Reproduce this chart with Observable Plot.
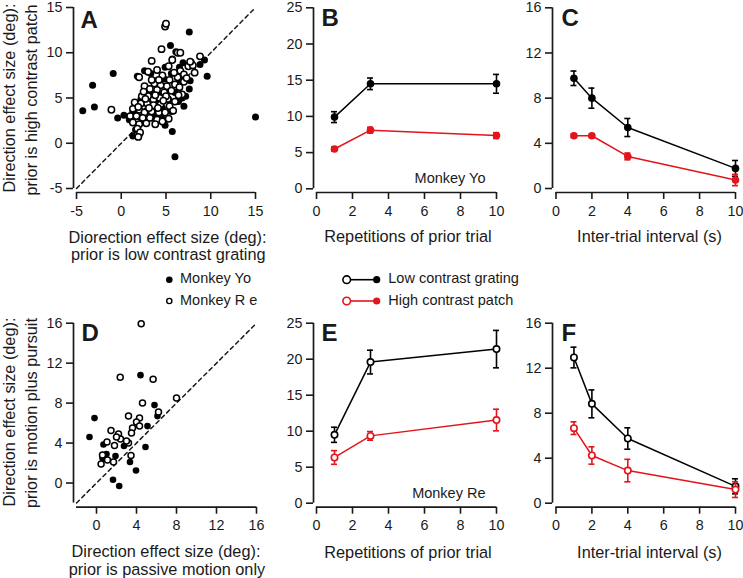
<!DOCTYPE html>
<html><head><meta charset="utf-8">
<script src="https://cdn.jsdelivr.net/npm/d3@7"></script>
<script src="https://cdn.jsdelivr.net/npm/@observablehq/plot@0.6"></script>
<style>
body{margin:0;background:#fff;}
#fig{position:relative;width:743px;height:578px;font-family:"Liberation Sans",Arial,Helvetica,sans-serif;color:#1a1a1a;}
#fig svg{position:absolute;}
.t{position:absolute;white-space:nowrap;line-height:0.9;}
</style></head><body><div id="fig"></div>
<script>
// ---------- Panel A: scatter (deg) ----------
const aMonkeyYo = [[-4.3,3.6],[-3.2,6.4],[-3.0,4.0],[-0.9,7.7],[-0.4,2.8],[0.3,3.1],[0.9,2.6],[1.3,0.8],[1.6,1.5],[2.0,0.9],[1.8,7.4],[2.6,8.0],[3.3,7.7],[4.9,2.0],[5.7,1.3],[6.0,-1.5],[5.5,10.8],[7.6,12.3],[6.1,10.1],[9.3,9.2],[8.8,8.7],[9.6,7.4],[7.7,6.9],[7.6,6.0],[7.0,4.1],[7.2,5.2],[6.4,4.6],[5.6,3.5],[4.6,3.9],[3.7,2.9],[2.8,3.6],[2.2,4.9],[3.2,5.7],[4.0,6.4],[4.9,8.4],[5.6,7.7],[6.5,8.4],[4.4,5.3],[5.2,6.0],[6.0,5.6],[3.0,4.4],[4.1,4.5],[1.3,3.5],[5.7,9.3],[6.9,8.9],[3.6,3.4],[2.4,2.5],[6.6,7.0],[4.8,7.1],[3.9,6.9],[15.0,2.9],[6.8,5.0],[5.3,4.8],[2.1,2.9],[4.5,2.9]];
const aMonkeyRe = [[-1.1,3.7],[4.9,12.9],[5.0,13.2],[4.5,10.4],[6.3,10.0],[3.4,9.1],[8.8,9.6],[7.8,8.9],[8.2,7.8],[7.5,8.5],[6.6,8.0],[5.7,9.2],[4.0,8.1],[3.0,7.9],[2.0,7.3],[4.6,7.5],[5.4,7.0],[6.3,7.3],[7.0,7.6],[3.7,6.6],[4.4,6.4],[5.1,6.3],[6.0,6.5],[7.0,6.8],[2.6,6.3],[3.2,6.0],[4.0,5.9],[4.8,5.6],[5.6,5.8],[6.8,5.4],[2.3,5.2],[3.0,5.2],[3.6,4.8],[4.3,5.0],[5.2,4.9],[6.0,4.6],[1.5,4.5],[2.2,4.4],[2.9,4.4],[3.6,4.2],[4.4,4.3],[5.4,4.1],[1.3,3.8],[2.0,3.7],[2.6,3.4],[3.4,3.5],[4.2,3.4],[4.9,3.4],[5.8,3.6],[1.0,3.0],[1.7,3.0],[2.4,2.8],[3.2,2.8],[4.0,2.6],[4.6,2.4],[5.3,2.7],[1.3,2.3],[2.0,2.1],[2.8,2.2],[1.8,1.6],[2.1,1.2],[1.9,0.7],[3.8,2.1],[6.5,6.2],[5.9,7.8],[4.2,7.0],[3.8,5.3],[5.0,5.2],[2.7,4.9],[4.7,4.7],[6.4,5.3],[7.3,7.2],[8.0,8.6],[3.4,7.0],[2.5,5.7],[1.9,4.0],[3.1,3.9],[4.1,3.9],[6.6,10.0],[5.3,8.5],[7.7,9.0]];
const aDomain = [-5, 15];
const aTicks = [-5, 0, 5, 10, 15];

// ---------- Panel D: scatter (deg) ----------
const dMonkeyYo = [[4.4,10.8],[-0.2,6.5],[-0.7,4.6],[5.8,7.8],[6.1,6.7],[5.1,5.7],[4.9,3.6],[2.75,3.7],[1.9,2.7],[1.0,2.9],[0.7,3.85],[3.35,2.1],[3.95,1.25],[1.65,0.33],[2.27,-0.3],[0.6,2.5]];
const dMonkeyRe = [[4.47,15.95],[2.37,10.6],[5.66,10.4],[8.0,8.5],[4.6,8.0],[3.2,6.7],[4.3,6.5],[4.0,6.1],[4.3,5.7],[3.6,5.5],[3.5,5.0],[1.45,5.25],[2.2,4.9],[2.4,4.4],[1.05,4.1],[1.8,3.75],[3.2,4.0],[3.45,2.75],[1.1,2.3],[1.7,2.1],[0.46,1.9],[6.2,7.1],[0.6,2.8],[2.0,4.6],[3.0,4.2]];
const dDomain = [-2, 16];
const dTicks = [0, 4, 8, 12, 16];

// ---------- Panels B & E: repetitions ----------
const repetitions = [1, 3, 10];
const bLow = [9.9, 14.5, 14.5], bLowErr = [0.75, 0.8, 1.3];
const bHigh = [5.5, 8.1, 7.35], bHighErr = [0.3, 0.4, 0.4];
const eLow = [9.5, 19.6, 21.4], eLowErr = [1.05, 1.65, 2.6];
const eHigh = [6.35, 9.35, 11.55], eHighErr = [0.95, 0.6, 1.5];
const repTicks = [0, 2, 4, 6, 8, 10];
const repYTicks = [0, 5, 10, 15, 20, 25];

// ---------- Panels C & F: inter-trial interval ----------
const intervals = [1, 2, 4, 10];
const cLow = [9.76, 8.0, 5.4, 1.78], cLowErr = [0.64, 0.89, 0.8, 0.7];
const cHigh = [4.67, 4.67, 2.84, 0.75], cHighErr = [0.15, 0.15, 0.3, 0.5];
const fLow = [12.95, 8.83, 5.75, 1.5], fLowErr = [0.92, 1.24, 0.95, 0.67];
const fHigh = [6.67, 4.24, 2.9, 1.21], fHighErr = [0.56, 0.77, 1.0, 0.7];
const itiTicks = [0, 2, 4, 6, 8, 10];
const itiYTicks = [0, 4, 8, 12, 16];

const RED = "#e3141b";
const FONT = '"Liberation Sans", Arial, Helvetica, sans-serif';
const fig = document.getElementById("fig");

function addText(txt, cx, cy, size, opts = {}) {
  const d = document.createElement("div");
  d.className = "t";
  d.textContent = txt;
  d.style.fontSize = size + "px";
  d.style.left = cx + "px";
  d.style.top = cy + "px";
  const a = opts.anchor || "middle";
  const tx = a === "start" ? "0" : a === "end" ? "-100%" : "-50%";
  d.style.transform = `translate(${tx},-50%)` + (opts.rotate ? " rotate(-90deg)" : "");
  fig.appendChild(d);
}

function panel(p, marks) {
  const chart = Plot.plot({
    width: p.w, height: p.h,
    marginLeft: p.yLine - p.left,
    marginRight: p.left + p.w - p.xPx[1],
    marginTop: p.yPx[0] - p.top,
    marginBottom: p.top + p.h - p.xLine,
    insetLeft: p.xPx[0] - p.yLine,
    insetBottom: p.xLine - p.yPx[1],
    x: {domain: p.xDomain, label: null},
    y: {domain: p.yDomain, label: null},
    style: {background: "transparent", overflow: "visible", fontFamily: FONT, fontSize: "14.3px", color: "#1a1a1a"},
    marks: [
      Plot.ruleY([p.yDomain[0]], {x1: () => p.xDomain[0], x2: () => p.xDomain[1], dy: p.xLine - p.yPx[1], strokeWidth: 1.7}),
      Plot.ruleX([p.xDomain[0]], {y1: () => p.yDomain[0], y2: () => p.yDomain[1], dx: -(p.xPx[0] - p.yLine), strokeWidth: 1.7}),
      Plot.axisX(p.xTicks, {tickSize: 7, tickPadding: 6, strokeWidth: 1.6, tickFormat: d => String(d), label: null}),
      Plot.axisY(p.yTicks, {tickSize: 7, tickPadding: 4, strokeWidth: 1.6, tickFormat: d => String(d), label: null}),
      Plot.text([p.letter], {frameAnchor: "top-left", text: d => d, dx: p.ldx, dy: p.ldy, fontSize: 24, fontWeight: "bold", textAnchor: "start", lineAnchor: "top", fill: "#1a1a1a"}),
      ...marks
    ]
  });
  chart.style.left = p.left + "px";
  chart.style.top = p.top + "px";
  fig.appendChild(chart);
}

function scatterMarks(domain, yo, re, rFill, rOpen) {
  return [
    Plot.line(domain.map(v => [v, v]), {x: d => d[0], y: d => d[1], stroke: "#1a1a1a", strokeWidth: 1.5, strokeDasharray: "4,3.5"}),
    Plot.dot(yo, {x: d => d[0], y: d => d[1], r: rFill, fill: "black", stroke: "none"}),
    Plot.dot(re, {x: d => d[0], y: d => d[1], r: rOpen, fill: "white", stroke: "black", strokeWidth: 1.5})
  ];
}

function seriesMarks(xs, ys, es, color, open) {
  const rows = xs.map((x, i) => ({x, y: ys[i], e: es[i]}));
  return [
    Plot.line(rows, {x: "x", y: "y", stroke: color, strokeWidth: 1.5}),
    Plot.ruleX(rows, {x: "x", y1: d => d.y - d.e, y2: d => d.y + d.e, stroke: color, strokeWidth: 1.6}),
    Plot.ruleY(rows, {y: d => d.y + d.e, x1: "x", x2: "x", insetLeft: -3, insetRight: -3, stroke: color, strokeWidth: 1.6}),
    Plot.ruleY(rows, {y: d => d.y - d.e, x1: "x", x2: "x", insetLeft: -3, insetRight: -3, stroke: color, strokeWidth: 1.6}),
    Plot.dot(rows, {x: "x", y: "y", r: open ? 3.2 : 3.8, fill: open ? "white" : color, stroke: open ? color : "none", strokeWidth: 1.6})
  ];
}

// ---------- layout ----------
const top1 = {top: 0, h: 225, xLine: 192};
const top2 = {top: 310, h: 225, xLine: 506.7};

panel({...top1, left: 0, w: 270, yLine: 73, xPx: [76, 255], yPx: [7, 188], xDomain: aDomain, yDomain: aDomain, xTicks: aTicks, yTicks: aTicks, letter: "A", ldx: 7, ldy: 3},
  scatterMarks(aDomain, aMonkeyYo, aMonkeyRe, 3.5, 3.2));

panel({...top1, left: 270, w: 240, yLine: 313, xPx: [316, 496], yPx: [7.3, 188.3], xDomain: [0, 10], yDomain: [0, 25], xTicks: repTicks, yTicks: repYTicks, letter: "B", ldx: 8, ldy: 1},
  [...seriesMarks(repetitions, bLow, bLowErr, "black", false),
   ...seriesMarks(repetitions, bHigh, bHighErr, RED, false),
   Plot.text(["Monkey Yo"], {frameAnchor: "bottom-right", text: d => d, dx: -11, dy: -14, textAnchor: "end", lineAnchor: "middle", fontSize: 14.5, fill: "#1a1a1a"})]);

panel({...top1, left: 510, w: 233, yLine: 552, xPx: [555.5, 735], yPx: [7.3, 188], xDomain: [0, 10], yDomain: [0, 16], xTicks: itiTicks, yTicks: itiYTicks, letter: "C", ldx: 9, ldy: 1},
  [...seriesMarks(intervals, cLow, cLowErr, "black", false),
   ...seriesMarks(intervals, cHigh, cHighErr, RED, false)]);

panel({...top2, left: 0, w: 270, yLine: 73, xPx: [76, 256], yPx: [322.7, 502.5], xDomain: dDomain, yDomain: dDomain, xTicks: dTicks, yTicks: dTicks, letter: "D", ldx: 8, ldy: 1},
  scatterMarks(dDomain, dMonkeyYo, dMonkeyRe, 3.3, 3.0));

panel({...top2, left: 270, w: 240, yLine: 313, xPx: [316, 496], yPx: [322.7, 502.7], xDomain: [0, 10], yDomain: [0, 25], xTicks: repTicks, yTicks: repYTicks, letter: "E", ldx: 8, ldy: 1},
  [...seriesMarks(repetitions, eLow, eLowErr, "black", true),
   ...seriesMarks(repetitions, eHigh, eHighErr, RED, true),
   Plot.text(["Monkey Re"], {frameAnchor: "bottom-right", text: d => d, dx: -11, dy: -14, textAnchor: "end", lineAnchor: "middle", fontSize: 14.5, fill: "#1a1a1a"})]);

panel({...top2, left: 510, w: 233, yLine: 552, xPx: [555.5, 735], yPx: [322.7, 502.7], xDomain: [0, 10], yDomain: [0, 16], xTicks: itiTicks, yTicks: itiYTicks, letter: "F", ldx: 9, ldy: 1},
  [...seriesMarks(intervals, fLow, fLowErr, "black", true),
   ...seriesMarks(intervals, fHigh, fHighErr, RED, true)]);

// ---------- axis titles ----------
const AT = 16.3;
addText("Direction effect size (deg):", 9.2, 98, AT, {rotate: true});
addText("prior is high contrast patch", 30.9, 100, AT, {rotate: true});
addText("Diorection effect size (deg):", 167.5, 236.5, AT);
addText("prior is low contrast grating", 168.3, 254, AT);
addText("Repetitions of prior trial", 408, 235.5, AT);
addText("Inter-trial interval (s)", 649.5, 235.5, AT);

addText("Direction effect size (deg):", 9.2, 412, AT, {rotate: true});
addText("prior is motion plus pursuit", 30.9, 412.5, AT, {rotate: true});
addText("Direction effect size (deg):", 166, 550.8, AT);
addText("prior is passive motion only", 167, 568.5, AT);
addText("Repetitions of prior trial", 408, 551.7, AT);
addText("Inter-trial interval (s)", 649.5, 551.7, AT);

// ---------- legends ----------
const ns = "http://www.w3.org/2000/svg";
const lg = document.createElementNS(ns, "svg");
lg.setAttribute("width", 260); lg.setAttribute("height", 50);
lg.style.left = "150px"; lg.style.top = "265px";
function el(tag, attrs) { const e = document.createElementNS(ns, tag); for (const k in attrs) e.setAttribute(k, attrs[k]); lg.appendChild(e); }
el("circle", {cx: 19.3, cy: 14.7, r: 3.3, fill: "black"});
el("circle", {cx: 19.3, cy: 36, r: 2.6, fill: "white", stroke: "black", "stroke-width": 1.4});
[["black", 14.7], [RED, 36]].forEach(([c, y]) => {
  el("line", {x1: 196.7, x2: 226.7, y1: y, y2: y, stroke: c, "stroke-width": 1.6});
  el("circle", {cx: 196.7, cy: y, r: 3.8, fill: "white", stroke: c, "stroke-width": 1.6});
  el("circle", {cx: 226.7, cy: y, r: 3.6, fill: c});
});
fig.appendChild(lg);
addText("Monkey Yo", 180, 279, 14.5, {anchor: "start"});
addText("Monkey R e", 180, 301, 14.5, {anchor: "start"});
addText("Low contrast grating", 388.3, 279, 14.5, {anchor: "start"});
addText("High contrast patch", 388.3, 301, 14.5, {anchor: "start"});
</script></body></html>
